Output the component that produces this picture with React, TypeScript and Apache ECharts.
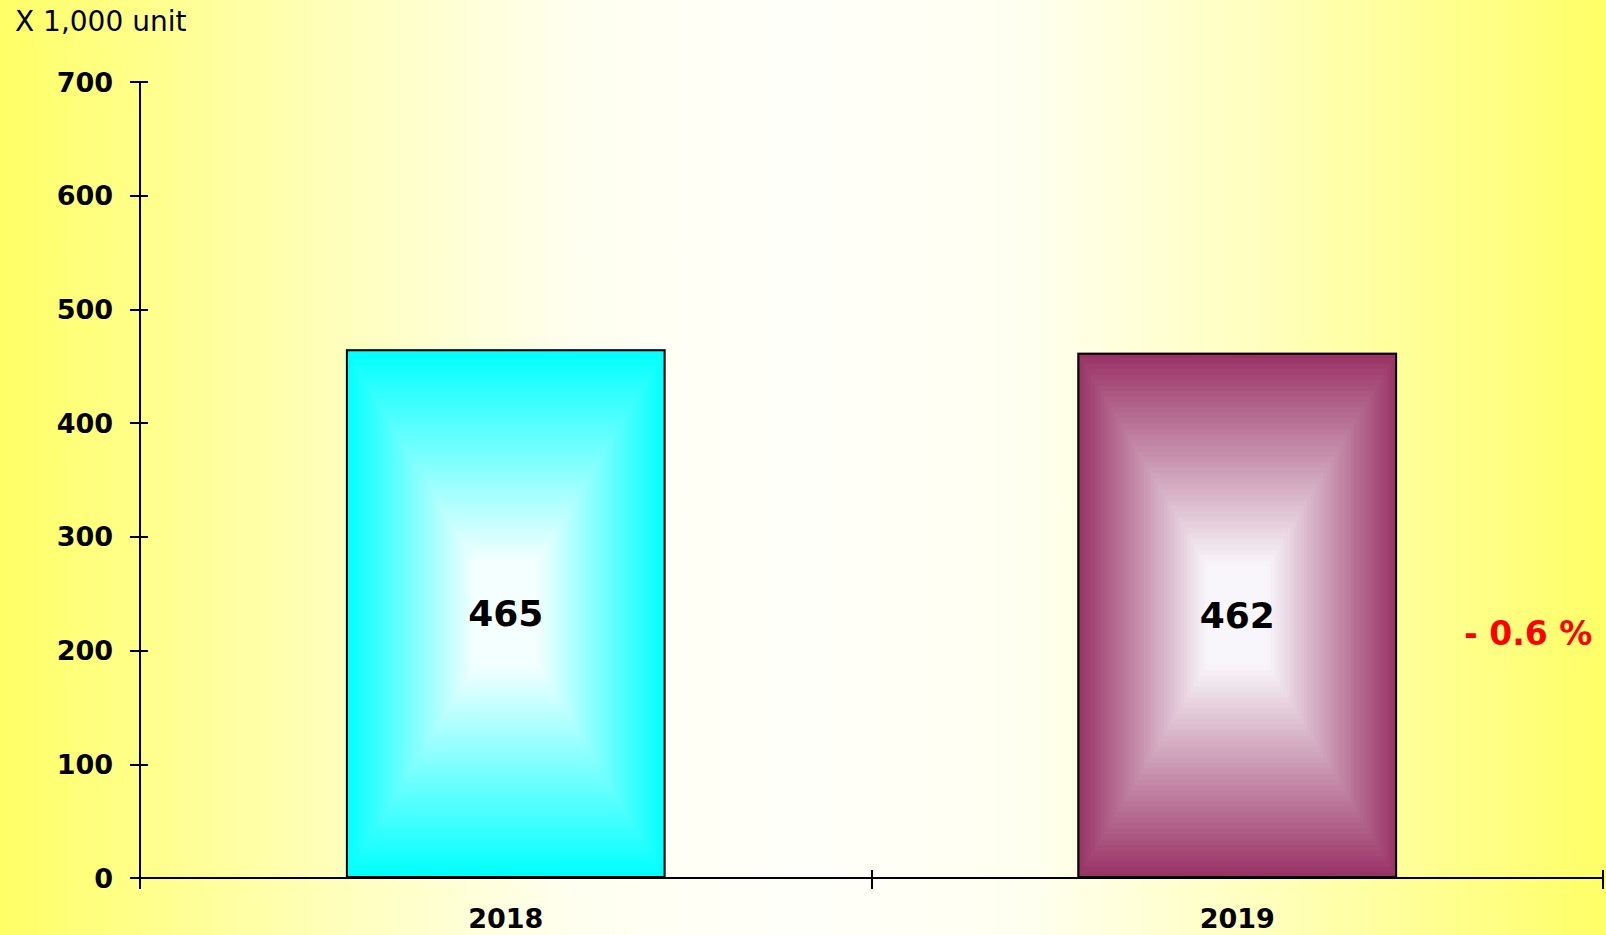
import React, { useEffect, useRef } from "react";
import * as echarts from "echarts";

const categories = ["2018", "2019"];
const values = [465, 462];
const edgeColors = ["#00ffff", "#993366"];
const centerColors = ["#f4ffff", "#f8f6fa"];
const bandCounts = [70, 48];
const yTicks = { min: 0, max: 700, interval: 100 };
const unitLabel = "X 1,000 unit";
const changeLabel = "- 0.6 %";

function hexToRgb(h: string) {
  const n = parseInt(h.slice(1), 16);
  return [(n >> 16) & 255, (n >> 8) & 255, n & 255];
}
function mix(a: string, b: string, t: number) {
  const A = hexToRgb(a), B = hexToRgb(b);
  const c = A.map((v, i) => Math.round(v + (B[i] - v) * t));
  return `rgb(${c[0]},${c[1]},${c[2]})`;
}

export default function App() {
  const ref = useRef<HTMLDivElement>(null);
  useEffect(() => {
    if (!ref.current) return;
    const chart = echarts.init(ref.current, null, { renderer: "svg" });
    const font = "DejaVu Sans";
    const option: any = {
      animation: false,
      backgroundColor: {
        type: "linear", x: 0, y: 0, x2: 1, y2: 0,
        colorStops: [
          { offset: 0, color: "#ffff66" },
          { offset: 0.2, color: "#ffffb8" },
          { offset: 0.36, color: "#fffff0" },
          { offset: 0.5, color: "#fffffa" },
          { offset: 0.64, color: "#fffff0" },
          { offset: 0.8, color: "#ffffb8" },
          { offset: 1, color: "#ffff66" },
        ],
      },
      grid: { left: 140, right: 3, top: 82, bottom: 57, containLabel: false },
      xAxis: [
        {
          type: "category",
          data: categories,
          position: "bottom",
          boundaryGap: true,
          axisLine: { show: true, lineStyle: { color: "#000", width: 2 } },
          axisTick: { show: true, inside: false, length: 11, alignWithLabel: false, lineStyle: { color: "#000", width: 2 } },
          axisLabel: { margin: 27, color: "#000", fontFamily: font, fontWeight: "bold", fontSize: 27 },
          splitLine: { show: false },
        },
        {
          type: "category",
          data: categories,
          position: "bottom",
          boundaryGap: true,
          axisLine: { show: false },
          axisTick: { show: true, inside: true, length: 8, alignWithLabel: false, lineStyle: { color: "#000", width: 2 } },
          axisLabel: { show: false },
          splitLine: { show: false },
        },
      ],
      yAxis: [
        {
          type: "value",
          min: yTicks.min, max: yTicks.max, interval: yTicks.interval,
          position: "left",
          axisLine: { show: true, lineStyle: { color: "#000", width: 2 } },
          axisTick: { show: true, inside: false, length: 10, lineStyle: { color: "#000", width: 2 } },
          axisLabel: { margin: 27, color: "#000", fontFamily: font, fontWeight: "bold", fontSize: 27 },
          splitLine: { show: false },
        },
        {
          type: "value",
          min: yTicks.min, max: yTicks.max, interval: yTicks.interval,
          position: "left",
          axisLine: { show: false },
          axisTick: { show: true, inside: true, length: 8, lineStyle: { color: "#000", width: 2 } },
          axisLabel: { show: false },
          splitLine: { show: false },
        },
      ],
      series: [
        {
          type: "custom",
          xAxisIndex: 0,
          yAxisIndex: 0,
          z: 1,
          data: values.map((v, i) => [i, v]),
          renderItem: (params: any, api: any) => {
            const idx = api.value(0);
            const val = api.value(1);
            const base = api.coord([idx, 0]);
            const top = api.coord([idx, val]);
            const bw = api.size([1, 0])[0] * 0.437;
            const x0 = base[0] - bw / 2;
            const y0 = top[1];
            const h = base[1] - top[1];
            const n = bandCounts[idx];
            const children: any[] = [];
            for (let k = 0; k < n; k++) {
              const t = k / n;
              const f = Math.min(1, t / 0.8);
              const dx = (t * bw) / 2;
              const dy = (t * h) / 2;
              children.push({
                type: "rect",
                shape: { x: x0 + dx, y: y0 + dy, width: bw - 2 * dx, height: h - 2 * dy },
                style: { fill: mix(edgeColors[idx], centerColors[idx], f), stroke: null },
              });
            }
            return { type: "group", children };
          },
        },
        {
          type: "bar",
          xAxisIndex: 0,
          yAxisIndex: 0,
          z: 3,
          barWidth: "43.7%",
          data: values,
          itemStyle: { color: "rgba(0,0,0,0)", borderColor: "#000", borderWidth: 2 },
          label: {
            show: true,
            position: "inside",
            color: "#000",
            fontFamily: font,
            fontWeight: "bold",
            fontSize: 36,
          },
        },
      ],
      graphic: [
        {
          type: "text",
          left: 15,
          top: 7,
          style: { text: unitLabel, fill: "#000", font: `28px ${font}` },
        },
        {
          type: "text",
          left: 1464,
          top: 617,
          style: { text: changeLabel, fill: "#ff0000", font: `bold 33px ${font}` },
        },
      ],
    };
    chart.setOption(option);
    return () => chart.dispose();
  }, []);
  return <div ref={ref} style={{ position: "fixed", left: 0, top: 0, width: 1606, height: 935 }} />;
}
